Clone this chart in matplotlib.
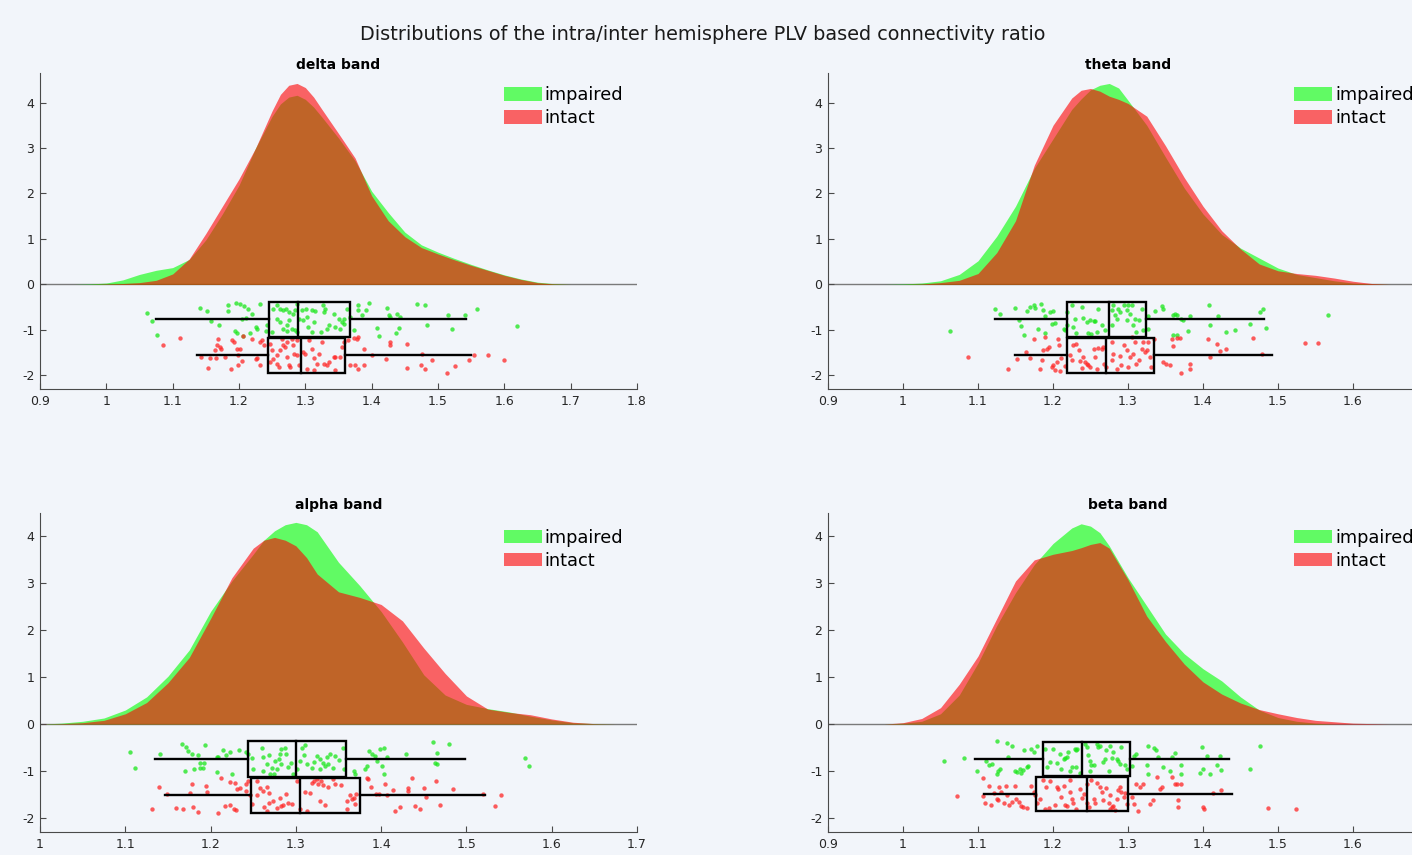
import numpy as np
import matplotlib
matplotlib.use("Agg")
import matplotlib.pyplot as plt
from matplotlib.patches import Patch, Rectangle

SUPTITLE = "Distributions of the intra/inter hemisphere PLV based connectivity ratio"
BANDS = ["delta band", "theta band", "alpha band", "beta band"]
GROUPS = ["impaired", "intact"]

# ---------------- density curves ----------------
delta_grid = [0.925, 0.95, 0.975, 1.0, 1.025, 1.05, 1.075, 1.1, 1.125, 1.15, 1.175, 1.2, 1.225, 1.25,
              1.2625, 1.275, 1.2875, 1.3, 1.3125, 1.325, 1.35, 1.375, 1.4, 1.425, 1.45, 1.475, 1.5,
              1.525, 1.55, 1.575, 1.6, 1.625, 1.65, 1.675, 1.7, 1.725]
delta_impaired_density = [0, 0.0, 0.01, 0.03, 0.10, 0.22, 0.31, 0.37, 0.55, 0.98, 1.55, 2.18, 3.00, 3.70,
                          3.97, 4.12, 4.16, 4.07, 3.90, 3.68, 3.22, 2.72, 2.05, 1.58, 1.15, 0.87, 0.71,
                          0.57, 0.44, 0.32, 0.21, 0.12, 0.05, 0.015, 0.0, 0.0]
delta_intact_density = [0, 0, 0.0, 0.01, 0.02, 0.04, 0.09, 0.23, 0.56, 1.12, 1.72, 2.32, 3.00, 3.82,
                        4.18, 4.38, 4.42, 4.33, 4.12, 3.85, 3.32, 2.78, 1.95, 1.40, 1.05, 0.81, 0.67,
                        0.54, 0.42, 0.31, 0.20, 0.11, 0.04, 0.01, 0.0, 0.0]

theta_grid = [0.95, 0.975, 1.0, 1.025, 1.05, 1.075, 1.1, 1.125, 1.15, 1.175, 1.2, 1.225, 1.2375, 1.25,
              1.2625, 1.275, 1.2875, 1.3, 1.325, 1.35, 1.375, 1.4, 1.425, 1.45, 1.475, 1.5, 1.525,
              1.55, 1.575, 1.6, 1.625, 1.65, 1.675]
theta_impaired_density = [0, 0.0, 0.01, 0.03, 0.08, 0.22, 0.52, 1.06, 1.72, 2.55, 3.20, 3.85, 4.08, 4.28,
                          4.38, 4.42, 4.32, 4.05, 3.50, 2.80, 2.12, 1.55, 1.10, 0.80, 0.58, 0.36, 0.22,
                          0.15, 0.08, 0.03, 0.01, 0.0, 0.0]
theta_intact_density = [0, 0, 0.0, 0.01, 0.04, 0.09, 0.24, 0.70, 1.40, 2.62, 3.50, 4.10, 4.27, 4.31,
                        4.25, 4.14, 4.07, 3.98, 3.70, 3.05, 2.35, 1.72, 1.18, 0.78, 0.45, 0.30, 0.24,
                        0.20, 0.14, 0.07, 0.02, 0.0, 0.0]

alpha_grid = [1.0, 1.025, 1.05, 1.075, 1.1, 1.125, 1.15, 1.175, 1.2, 1.225, 1.25, 1.2625, 1.275, 1.2875,
              1.3, 1.3125, 1.325, 1.35, 1.375, 1.4, 1.425, 1.45, 1.475, 1.5, 1.525, 1.55, 1.575, 1.6,
              1.625, 1.65, 1.675]
alpha_impaired_density = [0, 0.02, 0.06, 0.13, 0.30, 0.58, 1.02, 1.58, 2.40, 3.05, 3.62, 3.92, 4.12, 4.25,
                          4.30, 4.25, 4.10, 3.45, 2.95, 2.40, 1.75, 1.05, 0.62, 0.42, 0.33, 0.26, 0.17,
                          0.09, 0.03, 0.01, 0]
alpha_intact_density = [0, 0.01, 0.03, 0.08, 0.22, 0.46, 0.88, 1.42, 2.25, 3.12, 3.75, 3.92, 3.98, 3.92,
                        3.80, 3.55, 3.20, 2.82, 2.70, 2.55, 2.20, 1.62, 1.08, 0.60, 0.32, 0.25, 0.20,
                        0.11, 0.04, 0.01, 0]

beta_grid = [0.95, 0.975, 1.0, 1.025, 1.05, 1.075, 1.1, 1.125, 1.15, 1.175, 1.2, 1.225, 1.2375, 1.25,
             1.2625, 1.275, 1.3, 1.325, 1.35, 1.375, 1.4, 1.425, 1.45, 1.475, 1.5, 1.525, 1.55, 1.575,
             1.6, 1.625, 1.65]
beta_impaired_density = [0, 0.0, 0.02, 0.06, 0.22, 0.62, 1.30, 2.10, 2.80, 3.40, 3.85, 4.18, 4.27, 4.22,
                         4.08, 3.80, 3.12, 2.52, 1.92, 1.50, 1.18, 0.92, 0.58, 0.30, 0.14, 0.06, 0.02,
                         0.0, 0, 0, 0]
beta_intact_density = [0, 0.0, 0.03, 0.12, 0.35, 0.85, 1.45, 2.25, 3.05, 3.50, 3.62, 3.70, 3.76, 3.83,
                       3.87, 3.75, 3.08, 2.30, 1.76, 1.28, 0.90, 0.64, 0.45, 0.31, 0.22, 0.14, 0.08,
                       0.05, 0.02, 0.01, 0]

# ---------------- box statistics: [whisker low, q1, median, q3, whisker high] ----------------
delta_impaired_box = [1.075, 1.245, 1.289, 1.368, 1.542]
delta_intact_box = [1.136, 1.243, 1.294, 1.360, 1.550]
theta_impaired_box = [1.123, 1.219, 1.275, 1.324, 1.481]
theta_intact_box = [1.150, 1.218, 1.271, 1.334, 1.492]
alpha_impaired_box = [1.135, 1.244, 1.300, 1.359, 1.498]
alpha_intact_box = [1.147, 1.247, 1.305, 1.375, 1.522]
beta_impaired_box = [1.096, 1.187, 1.238, 1.303, 1.434]
beta_intact_box = [1.108, 1.177, 1.245, 1.300, 1.438]

# ---------------- raw points (value, jitter row) ----------------
delta_impaired_x = [1.062, 1.069, 1.077, 1.141, 1.152, 1.158, 1.170, 1.183, 1.184, 1.196, 1.202, 1.208, 1.213,
                    1.219, 1.204, 1.211, 1.231, 1.225, 1.227, 1.194, 1.197, 1.206, 1.217, 1.240, 1.242, 1.258,
                    1.262, 1.267, 1.271, 1.275, 1.282, 1.285, 1.257, 1.262, 1.272, 1.280, 1.285, 1.287, 1.272,
                    1.295, 1.301, 1.310, 1.315, 1.327, 1.328, 1.329, 1.297, 1.304, 1.310, 1.323, 1.333, 1.335,
                    1.345, 1.353, 1.358, 1.355, 1.363, 1.373, 1.379, 1.380, 1.386, 1.396, 1.392, 1.408, 1.411,
                    1.423, 1.426, 1.428, 1.438, 1.443, 1.441, 1.436, 1.468, 1.481, 1.483, 1.515, 1.521, 1.541,
                    1.559, 1.619, 1.287, 1.290, 1.303, 1.313, 1.343, 1.350, 1.368, 1.359, 1.276, 1.267, 1.252,
                    1.250]
delta_impaired_y = [-0.62, -0.81, -1.11, -0.51, -0.59, -0.81, -0.90, -0.59, -0.46, -0.40, -0.42, -0.48, -0.53,
                    -0.64, -0.76, -0.74, -0.42, -0.94, -0.97, -1.03, -1.06, -1.14, -1.06, -1.03, -0.90, -0.46,
                    -0.53, -0.57, -0.55, -0.61, -0.64, -0.57, -0.76, -0.83, -0.90, -0.97, -1.01, -1.05, -1.03,
                    -0.57, -0.54, -0.57, -0.59, -0.46, -0.61, -0.53, -0.79, -0.94, -1.05, -1.05, -0.97, -0.90,
                    -0.94, -0.97, -0.75, -0.83, -0.53, -1.01, -0.45, -0.57, -0.68, -0.40, -0.57, -0.96, -1.14,
                    -0.52, -0.68, -0.72, -0.64, -0.72, -0.96, -1.06, -0.43, -0.45, -0.90, -0.67, -0.97, -0.68,
                    -0.55, -0.92, -0.42, -0.76, -0.72, -0.83, -0.64, -0.77, -0.72, -0.87, -0.79, -0.97, -0.53,
                    -1.05]
delta_intact_x = [1.086, 1.111, 1.168, 1.167, 1.171, 1.164, 1.173, 1.154, 1.143, 1.157, 1.166, 1.179, 1.188,
                  1.189, 1.193, 1.197, 1.202, 1.199, 1.198, 1.204, 1.206, 1.220, 1.227, 1.226, 1.231, 1.232,
                  1.237, 1.235, 1.247, 1.250, 1.252, 1.257, 1.260, 1.262, 1.265, 1.267, 1.270, 1.272, 1.275,
                  1.277, 1.280, 1.282, 1.283, 1.287, 1.290, 1.297, 1.300, 1.305, 1.310, 1.313, 1.317, 1.320,
                  1.325, 1.328, 1.333, 1.335, 1.343, 1.345, 1.353, 1.355, 1.358, 1.365, 1.373, 1.378, 1.380,
                  1.375, 1.380, 1.389, 1.388, 1.401, 1.421, 1.427, 1.428, 1.453, 1.453, 1.474, 1.476, 1.480,
                  1.491, 1.513, 1.526, 1.546, 1.575, 1.600, 1.554, 1.368, 1.272, 1.303, 1.313, 1.257, 1.247,
                  1.287, 1.345]
delta_intact_y = [-1.34, -1.18, -1.19, -1.33, -1.38, -1.45, -1.43, -1.84, -1.60, -1.62, -1.62, -1.60, -1.85,
                  -1.23, -1.27, -1.41, -1.43, -1.55, -1.77, -1.69, -1.14, -1.19, -1.62, -1.65, -1.77, -1.27,
                  -1.33, -1.23, -1.30, -1.45, -1.63, -1.75, -1.82, -1.45, -1.19, -1.34, -1.38, -1.60, -1.77,
                  -1.82, -1.19, -1.34, -1.52, -1.56, -1.78, -1.49, -1.52, -1.23, -1.41, -1.62, -1.75, -1.52,
                  -1.27, -1.75, -1.78, -1.71, -1.60, -1.60, -1.60, -1.38, -1.27, -1.23, -1.18, -1.19, -1.16,
                  -1.78, -1.87, -1.77, -1.43, -1.56, -1.63, -1.27, -1.34, -1.31, -1.84, -1.78, -1.52, -1.87,
                  -1.67, -1.94, -1.80, -1.67, -1.55, -1.67, -1.56, -1.78, -1.27, -1.85, -1.89, -1.56, -1.71,
                  -1.23, -1.89]

theta_impaired_x = [1.123, 1.130, 1.149, 1.155, 1.158, 1.161, 1.165, 1.169, 1.174, 1.176, 1.184, 1.187, 1.189,
                    1.196, 1.200, 1.203, 1.198, 1.180, 1.189, 1.214, 1.216, 1.225, 1.229, 1.227, 1.231, 1.238,
                    1.240, 1.245, 1.249, 1.254, 1.256, 1.247, 1.251, 1.258, 1.260, 1.265, 1.269, 1.278, 1.280,
                    1.283, 1.285, 1.287, 1.289, 1.294, 1.298, 1.300, 1.302, 1.305, 1.307, 1.309, 1.314, 1.311,
                    1.318, 1.320, 1.327, 1.327, 1.336, 1.345, 1.347, 1.360, 1.362, 1.365, 1.371, 1.373, 1.380,
                    1.382, 1.408, 1.409, 1.420, 1.431, 1.442, 1.463, 1.476, 1.480, 1.484, 1.567, 1.218, 1.219,
                    1.365, 1.360, 1.298, 1.278, 1.063]
theta_impaired_y = [-0.53, -0.64, -0.52, -0.79, -0.92, -1.12, -0.59, -0.50, -0.46, -0.52, -0.44, -0.57, -0.70,
                    -0.61, -0.59, -0.84, -0.87, -0.99, -1.06, -0.97, -1.01, -0.46, -0.75, -0.94, -1.06, -0.50,
                    -0.74, -0.83, -0.79, -0.81, -0.81, -1.06, -1.09, -1.05, -0.53, -0.90, -1.01, -0.57, -0.46,
                    -0.68, -0.77, -0.53, -0.61, -0.45, -0.57, -0.46, -0.64, -0.46, -0.89, -0.76, -0.79, -1.05,
                    -0.53, -1.01, -0.70, -0.97, -0.59, -0.48, -0.53, -0.67, -0.64, -0.68, -0.76, -0.79, -1.03,
                    -0.70, -0.46, -0.90, -0.70, -1.05, -1.01, -0.87, -0.61, -0.53, -0.96, -0.68, -0.61, -0.90,
                    -1.12, -1.11, -0.79, -0.90, -1.03]
theta_intact_x = [1.140, 1.152, 1.164, 1.169, 1.174, 1.182, 1.185, 1.187, 1.189, 1.192, 1.194, 1.198, 1.200,
                  1.203, 1.205, 1.207, 1.208, 1.209, 1.210, 1.216, 1.223, 1.225, 1.231, 1.234, 1.236, 1.238,
                  1.240, 1.243, 1.245, 1.247, 1.249, 1.254, 1.256, 1.260, 1.265, 1.267, 1.268, 1.271, 1.278,
                  1.280, 1.285, 1.289, 1.291, 1.294, 1.298, 1.300, 1.302, 1.307, 1.309, 1.311, 1.315, 1.318,
                  1.320, 1.322, 1.325, 1.327, 1.329, 1.331, 1.347, 1.351, 1.356, 1.358, 1.360, 1.365, 1.369,
                  1.382, 1.382, 1.370, 1.407, 1.409, 1.418, 1.422, 1.431, 1.466, 1.479, 1.536, 1.553, 1.258,
                  1.227, 1.278, 1.305, 1.334, 1.086]
theta_intact_y = [-1.85, -1.65, -1.49, -1.62, -1.19, -1.87, -1.67, -1.45, -1.16, -1.41, -1.38, -1.82, -1.78,
                  -1.89, -1.71, -1.19, -1.34, -1.91, -1.62, -1.80, -1.56, -1.67, -1.30, -1.45, -1.69, -1.84,
                  -1.60, -1.71, -1.75, -1.78, -1.82, -1.41, -1.60, -1.40, -1.41, -1.38, -1.75, -1.82, -1.27,
                  -1.52, -1.87, -1.58, -1.78, -1.34, -1.45, -1.82, -1.60, -1.52, -1.27, -1.75, -1.67, -1.41,
                  -1.27, -1.49, -1.45, -1.27, -1.60, -1.82, -1.71, -1.75, -1.78, -1.19, -1.36, -1.18, -1.18,
                  -1.75, -1.87, -1.94, -1.21, -1.60, -1.30, -1.47, -1.41, -1.18, -1.52, -1.28, -1.28, -1.85,
                  -1.34, -1.67, -1.16, -1.19, -1.59]

alpha_impaired_x = [1.106, 1.111, 1.141, 1.166, 1.171, 1.174, 1.178, 1.185, 1.188, 1.192, 1.191, 1.194, 1.170,
                    1.180, 1.188, 1.207, 1.209, 1.215, 1.218, 1.223, 1.233, 1.242, 1.244, 1.207, 1.225, 1.249,
                    1.250, 1.260, 1.262, 1.266, 1.268, 1.270, 1.272, 1.274, 1.276, 1.278, 1.280, 1.281, 1.282,
                    1.283, 1.287, 1.289, 1.291, 1.294, 1.297, 1.301, 1.307, 1.309, 1.311, 1.313, 1.319, 1.321,
                    1.325, 1.328, 1.332, 1.334, 1.336, 1.338, 1.340, 1.344, 1.350, 1.346, 1.355, 1.356, 1.368,
                    1.369, 1.381, 1.384, 1.386, 1.389, 1.393, 1.395, 1.399, 1.403, 1.401, 1.403, 1.407, 1.429,
                    1.461, 1.463, 1.465, 1.466, 1.479, 1.569, 1.573, 1.305, 1.328, 1.262]
alpha_impaired_y = [-0.59, -0.94, -0.64, -0.43, -0.49, -0.58, -0.63, -0.66, -0.82, -0.82, -0.93, -0.44, -1.00,
                    -0.96, -0.93, -0.71, -0.70, -0.56, -0.66, -0.59, -0.56, -0.59, -0.63, -1.03, -1.06, -0.73,
                    -0.96, -0.50, -0.70, -0.86, -0.66, -1.07, -0.93, -1.06, -0.78, -0.96, -0.75, -0.64, -0.84,
                    -0.54, -0.51, -0.64, -0.91, -0.82, -1.06, -0.96, -0.50, -0.66, -0.44, -0.84, -0.93, -0.80,
                    -0.68, -0.75, -0.82, -0.89, -0.71, -0.84, -0.64, -0.93, -0.77, -0.68, -0.51, -0.96, -1.01,
                    -1.07, -0.96, -0.89, -0.57, -0.63, -0.68, -0.78, -0.54, -0.50, -0.89, -1.06, -0.71, -0.63,
                    -0.39, -0.82, -0.61, -0.84, -0.43, -0.73, -0.89, -0.78, -0.96, -1.00]
alpha_intact_x = [1.131, 1.139, 1.149, 1.160, 1.168, 1.176, 1.178, 1.179, 1.185, 1.195, 1.196, 1.209, 1.212,
                  1.217, 1.223, 1.223, 1.227, 1.229, 1.230, 1.231, 1.235, 1.242, 1.242, 1.244, 1.246, 1.248,
                  1.254, 1.255, 1.258, 1.261, 1.263, 1.266, 1.268, 1.269, 1.273, 1.278, 1.281, 1.283, 1.285,
                  1.291, 1.296, 1.301, 1.305, 1.311, 1.317, 1.319, 1.321, 1.325, 1.326, 1.330, 1.332, 1.334,
                  1.338, 1.344, 1.346, 1.353, 1.360, 1.360, 1.363, 1.366, 1.368, 1.369, 1.371, 1.383, 1.385,
                  1.388, 1.394, 1.397, 1.405, 1.407, 1.414, 1.416, 1.422, 1.431, 1.432, 1.436, 1.440, 1.446,
                  1.450, 1.453, 1.464, 1.469, 1.484, 1.519, 1.533, 1.541, 1.289, 1.313, 1.266, 1.328]
alpha_intact_y = [-1.80, -1.34, -1.48, -1.78, -1.82, -1.46, -1.27, -1.77, -1.87, -1.32, -1.44, -1.89, -1.14,
                  -1.75, -1.73, -1.23, -1.80, -1.25, -1.84, -1.39, -1.36, -1.27, -1.43, -1.21, -1.51, -1.71,
                  -1.51, -1.21, -1.36, -1.43, -1.77, -1.34, -1.46, -1.68, -1.64, -1.78, -1.58, -1.75, -1.73,
                  -1.68, -1.70, -1.21, -1.82, -1.44, -1.46, -1.25, -1.21, -1.18, -1.27, -1.21, -1.30, -1.73,
                  -1.34, -1.18, -1.27, -1.30, -1.63, -1.80, -1.51, -1.60, -1.57, -1.71, -1.48, -1.14, -1.18,
                  -1.34, -1.50, -1.50, -1.27, -1.51, -1.41, -1.85, -1.77, -1.36, -1.43, -1.14, -1.75, -1.80,
                  -1.37, -1.55, -1.21, -1.73, -1.39, -1.50, -1.75, -1.51, -1.50, -1.85, -1.85, -1.64]

beta_impaired_x = [1.055, 1.081, 1.098, 1.111, 1.115, 1.118, 1.125, 1.127, 1.129, 1.125, 1.139, 1.140, 1.145,
                   1.149, 1.152, 1.156, 1.158, 1.160, 1.161, 1.165, 1.167, 1.171, 1.175, 1.178, 1.189, 1.192,
                   1.196, 1.205, 1.209, 1.211, 1.214, 1.216, 1.218, 1.220, 1.222, 1.225, 1.229, 1.231, 1.232,
                   1.236, 1.242, 1.245, 1.247, 1.249, 1.251, 1.254, 1.258, 1.260, 1.263, 1.267, 1.269, 1.270,
                   1.274, 1.278, 1.280, 1.285, 1.287, 1.289, 1.291, 1.296, 1.298, 1.305, 1.308, 1.311, 1.325,
                   1.327, 1.327, 1.334, 1.337, 1.340, 1.347, 1.356, 1.358, 1.362, 1.370, 1.371, 1.396, 1.398,
                   1.400, 1.405, 1.409, 1.419, 1.422, 1.424, 1.463, 1.476, 1.200, 1.231, 1.249, 1.276]
beta_impaired_y = [-0.79, -0.72, -0.99, -0.79, -0.88, -0.85, -0.37, -0.99, -0.95, -1.06, -0.41, -0.71, -0.46,
                   -0.99, -1.02, -0.95, -1.04, -0.97, -0.56, -0.92, -0.90, -0.53, -0.60, -0.46, -0.53, -0.92,
                   -0.81, -0.83, -0.64, -0.95, -0.74, -0.72, -0.71, -0.60, -0.99, -0.92, -0.53, -0.55, -0.53,
                   -1.04, -0.42, -0.49, -0.65, -0.78, -0.88, -0.88, -0.42, -0.49, -0.46, -0.81, -0.74, -0.56,
                   -0.99, -0.72, -0.60, -0.74, -0.78, -0.86, -0.48, -0.88, -0.95, -0.90, -0.67, -0.64, -0.88,
                   -0.46, -1.06, -0.51, -0.56, -0.71, -0.92, -1.00, -0.71, -0.62, -0.88, -1.06, -1.04, -0.49,
                   -0.95, -0.67, -1.06, -0.88, -0.67, -0.97, -0.95, -0.46, -0.53, -0.92, -0.99, -0.46]
beta_intact_x = [1.072, 1.107, 1.107, 1.109, 1.115, 1.117, 1.121, 1.125, 1.127, 1.128, 1.131, 1.135, 1.138,
                 1.139, 1.142, 1.145, 1.149, 1.151, 1.155, 1.158, 1.160, 1.165, 1.171, 1.174, 1.179, 1.183,
                 1.187, 1.189, 1.191, 1.194, 1.196, 1.203, 1.205, 1.207, 1.211, 1.214, 1.216, 1.218, 1.222,
                 1.225, 1.227, 1.231, 1.236, 1.238, 1.241, 1.245, 1.248, 1.251, 1.254, 1.256, 1.258, 1.262,
                 1.265, 1.267, 1.271, 1.274, 1.276, 1.278, 1.280, 1.282, 1.285, 1.287, 1.289, 1.291, 1.294,
                 1.296, 1.298, 1.305, 1.308, 1.311, 1.313, 1.316, 1.320, 1.329, 1.333, 1.338, 1.342, 1.345,
                 1.358, 1.362, 1.365, 1.367, 1.367, 1.371, 1.400, 1.401, 1.413, 1.424, 1.487, 1.524, 1.222,
                 1.245, 1.276, 1.176]
beta_intact_y = [-1.54, -1.14, -1.54, -1.69, -1.31, -1.73, -1.47, -1.59, -1.62, -1.34, -1.45, -1.69, -1.33,
                 -1.52, -1.73, -1.66, -1.33, -1.59, -1.66, -1.75, -1.76, -1.78, -1.33, -1.45, -1.69, -1.59,
                 -1.19, -1.82, -1.34, -1.78, -1.21, -1.73, -1.34, -1.38, -1.55, -1.31, -1.73, -1.75, -1.45,
                 -1.59, -1.68, -1.80, -1.38, -1.57, -1.48, -1.69, -1.76, -1.20, -1.59, -1.69, -1.26, -1.34,
                 -1.45, -1.62, -1.36, -1.69, -1.80, -1.76, -1.75, -1.84, -1.59, -1.40, -1.34, -1.45, -1.55,
                 -1.47, -1.71, -1.55, -1.71, -1.28, -1.85, -1.34, -1.27, -1.71, -1.62, -1.13, -1.38, -1.34,
                 -1.13, -1.28, -1.28, -1.61, -1.76, -1.28, -1.76, -1.80, -1.47, -1.40, -1.78, -1.80, -1.20,
                 -1.27, -1.52, -1.52]

# ---------------- axis ticks (those visible in the picture) ----------------
delta_xticks = [0.9, 1.0, 1.1, 1.2, 1.3, 1.4, 1.5, 1.6, 1.7, 1.8]
theta_xticks = [0.9, 1.0, 1.1, 1.2, 1.3, 1.4, 1.5, 1.6]
alpha_xticks = [1.0, 1.1, 1.2, 1.3, 1.4, 1.5, 1.6, 1.7]
beta_xticks = [0.9, 1.0, 1.1, 1.2, 1.3, 1.4, 1.5, 1.6]
yticks = [-2, -1, 0, 1, 2, 3, 4]

panels = [
    dict(name=BANDS[0], grid=delta_grid, dens=(delta_impaired_density, delta_intact_density),
         box=(delta_impaired_box, delta_intact_box),
         pts=((delta_impaired_x, delta_impaired_y), (delta_intact_x, delta_intact_y)),
         xticks=delta_xticks, xlim=(0.9, 1.8), ylim=(-2.3, 4.65),
         rows=((-0.38, -1.16), (-1.17, -1.95)),
         rect=(40, 73, 637, 389), leg_y=0.959),
    dict(name=BANDS[1], grid=theta_grid, dens=(theta_impaired_density, theta_intact_density),
         box=(theta_impaired_box, theta_intact_box),
         pts=((theta_impaired_x, theta_impaired_y), (theta_intact_x, theta_intact_y)),
         xticks=theta_xticks, xlim=(0.9, 1.7), ylim=(-2.3, 4.65),
         rows=((-0.38, -1.16), (-1.17, -1.95)),
         rect=(828, 73, 1428, 389), leg_y=0.959),
    dict(name=BANDS[2], grid=alpha_grid, dens=(alpha_impaired_density, alpha_intact_density),
         box=(alpha_impaired_box, alpha_intact_box),
         pts=((alpha_impaired_x, alpha_impaired_y), (alpha_intact_x, alpha_intact_y)),
         xticks=alpha_xticks, xlim=(1.0, 1.7), ylim=(-2.3, 4.5),
         rows=((-0.367, -1.137), (-1.144, -1.892)),
         rect=(40, 513, 637, 832), leg_y=0.951),
    dict(name=BANDS[3], grid=beta_grid, dens=(beta_impaired_density, beta_intact_density),
         box=(beta_impaired_box, beta_intact_box),
         pts=((beta_impaired_x, beta_impaired_y), (beta_intact_x, beta_intact_y)),
         xticks=beta_xticks, xlim=(0.9, 1.7), ylim=(-2.3, 4.5),
         rows=((-0.372, -1.102), (-1.123, -1.86)),
         rect=(828, 513, 1428, 832), leg_y=0.951),
]

W, H = 1412, 855
BG = "#F2F5FA"
FILL = [(0.0, 1.0, 0.0), (1.0, 0.0, 0.0)]
DOT = [(0.1, 0.9, 0.1), (1.0, 0.15, 0.15)]
AXC = "#4a4a4a"

fig = plt.figure(figsize=(W / 100, H / 100), dpi=100, facecolor=BG)
fig.text(703 / W, 1 - 35 / H, SUPTITLE, ha="center", va="center", fontsize=13.9, color="#1a1a1a")

for p in panels:
    l, t, r, b = p["rect"]
    ax = fig.add_axes([l / W, 1 - b / H, (r - l) / W, (b - t) / H])
    ax.set_facecolor("none")
    ax.axhline(0, color="#7a7a7a", lw=1.0, zorder=0.5)
    for gi in range(2):
        ax.fill_between(p["grid"], 0, p["dens"][gi], color=FILL[gi], alpha=0.6, lw=0, zorder=1 + gi)
    for gi in range(2):
        xs, ys = p["pts"][gi]
        ax.scatter(xs, ys, s=10, color=DOT[gi], alpha=0.75, lw=0, zorder=3)
    for gi in range(2):
        lo, q1, med, q3, hi = p["box"][gi]
        top, bot = p["rows"][gi]
        mid = (top + bot) / 2
        ax.add_patch(Rectangle((q1, bot), q3 - q1, top - bot, fill=False, ec="black", lw=1.7, zorder=4))
        ax.plot([med, med], [bot, top], color="black", lw=1.7, zorder=4)
        ax.plot([lo, q1], [mid, mid], color="black", lw=1.7, zorder=4)
        ax.plot([q3, hi], [mid, mid], color="black", lw=1.7, zorder=4)
    ax.set_xlim(*p["xlim"])
    ax.set_ylim(*p["ylim"])
    ax.set_xticks(p["xticks"])
    ax.set_xticklabels(["%g" % v for v in p["xticks"]])
    ax.set_yticks(yticks)
    ax.set_yticklabels(["%g" % v for v in yticks])
    for s in ["top", "right"]:
        ax.spines[s].set_visible(False)
    for s in ["left", "bottom"]:
        ax.spines[s].set_color(AXC)
        ax.spines[s].set_linewidth(0.8)
    ax.tick_params(direction="in", length=4, width=0.8, colors=AXC, labelcolor="#262626", labelsize=9, pad=4)
    ax.set_title(p["name"], fontsize=10, fontweight="bold", pad=3, color="black")
    handles = [Patch(facecolor=FILL[0], alpha=0.6, edgecolor="none"),
               Patch(facecolor=FILL[1], alpha=0.6, edgecolor="none")]
    ax.legend(handles, GROUPS, loc="upper left", bbox_to_anchor=(0.777, p["leg_y"]),
              frameon=False, fontsize=12.8, borderpad=0, borderaxespad=0, handlelength=2.13,
              handleheight=0.8, handletextpad=0.17, labelspacing=0.28)

fig.savefig("out.png", dpi=100, facecolor=BG)
